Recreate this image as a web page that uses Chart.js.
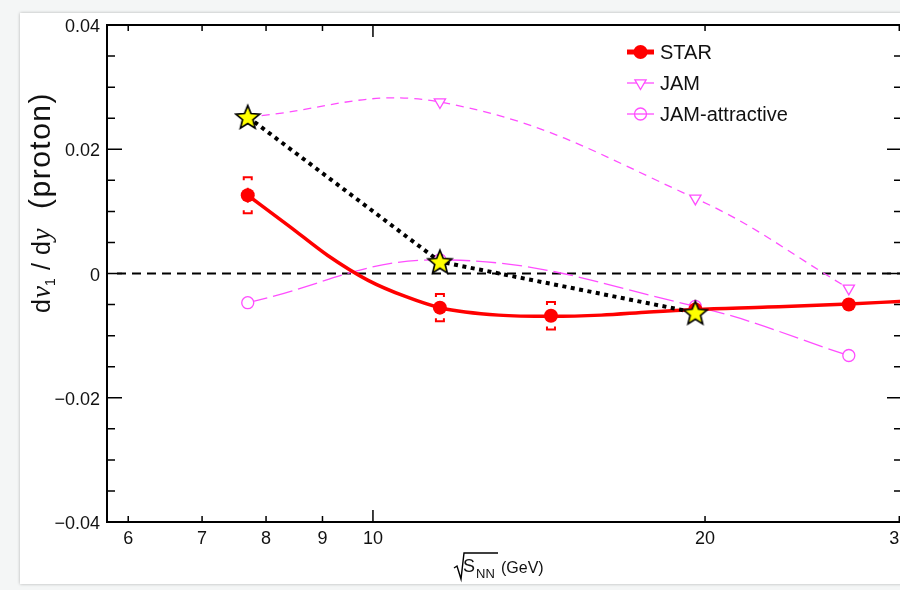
<!DOCTYPE html>
<html>
<head>
<meta charset="utf-8">
<script src="https://cdn.jsdelivr.net/npm/chart.js@4.4.1/dist/chart.umd.min.js"></script>
<style>
  html, body { margin: 0; padding: 0; width: 900px; height: 590px; overflow: hidden; background: #f4f6f6; }
  #panel { position: absolute; left: 20px; top: 13px; width: 920px; height: 571px; background: #fff;
           box-shadow: 0 0 3px rgba(0,0,0,0.28); }
  #chart { position: absolute; left: 0; top: 0; }
</style>
</head>
<body>
<div id="panel"></div>
<canvas id="chart" width="940" height="590"></canvas>
<script>
// STAR data points
const starEnergies = [7.7, 11.5, 14.5, 19.6, 27, 39];
const starValues   = [0.0126, -0.0055, -0.0068, -0.0058, -0.0050, -0.0034];
const starStatErr  = [0.0012, 0.0010, 0.0010, 0.0006, 0.0005, 0.0004];
const starSysErr   = [0.0029, 0.0022, 0.0022, 0.0008, 0.0006, 0.0005];

// red fitted curve
const fitEnergies = [7.7, 8.4, 9.1, 9.9, 10.7, 11.5, 13.0, 14.5, 16.1, 17.8, 19.6, 22.8, 27.0, 30.0, 33.4];
const fitValues   = [0.0126, 0.0076, 0.0029, -0.0011, -0.0037, -0.0055, -0.0067, -0.0069, -0.0067, -0.0062, -0.0058, -0.0054, -0.0049, -0.0045, -0.0041];

// JAM models
const jamEnergies   = [7.7, 11.5, 19.6, 27];
const jamValues     = [0.0252, 0.0276, 0.0121, -0.0024];
const jamAttrValues = [-0.0047, 0.0022, -0.0053, -0.0132];

// stars (yellow)
const modelEnergies = [7.7, 11.5, 19.6];
const modelValues   = [0.0252, 0.0019, -0.0063];

// axes
const xTicks = [6, 7, 8, 9, 10, 20, 30];
const xTickLabels = ['6', '7', '8', '9', '10', '20', '30'];
const xMajorTicks = [10];
const yTicks = [-0.04, -0.02, 0, 0.02, 0.04];
const yTickLabels = ['\u22120.04', '\u22120.02', '0', '0.02', '0.04'];
const yMinorTicks = [-0.035, -0.03, -0.025, -0.015, -0.01, -0.005, 0.005, 0.01, 0.015, 0.025, 0.03, 0.035];

const legendLabels = ['STAR', 'JAM', 'JAM-attractive'];

const RED = '#ff0000';
const MAGENTA = '#ff4dff';
const SANS = '"Liberation Sans", Arial, Helvetica, sans-serif';
const SERIF = '"Liberation Serif", "Times New Roman", serif';

function makeStar(size) {
  const c = document.createElement('canvas');
  c.width = size; c.height = size;
  const g = c.getContext('2d');
  const cx = size / 2, cy = size / 2 + 1, R = size / 2 - 1.5, r = R * 0.44;
  g.beginPath();
  for (let i = 0; i < 10; i++) {
    const a = -Math.PI / 2 + i * Math.PI / 5;
    const rad = i % 2 === 0 ? R : r;
    g.lineTo(cx + rad * Math.cos(a), cy + rad * Math.sin(a));
  }
  g.closePath();
  g.fillStyle = '#ffff00';
  g.fill();
  g.lineWidth = 1.7;
  g.strokeStyle = '#000';
  g.stroke();
  return c;
}
const starImg = makeStar(28);

function pts(xs, ys) {
  return xs.map((x, i) => ({ x: x, y: ys[i] }));
}

function drawSpaced(ctx, text, x, y, spacing) {
  for (const ch of text) {
    ctx.fillText(ch, x, y);
    x += ctx.measureText(ch).width + spacing;
  }
  return x;
}

const decorations = {
  id: 'decorations',
  beforeDatasetsDraw(chart) {
    const { ctx, chartArea: a, scales: { x, y } } = chart;
    ctx.save();
    ctx.beginPath();
    ctx.rect(a.left, a.top, a.right - a.left, a.bottom - a.top);
    ctx.clip();

    // zero line
    const y0 = y.getPixelForValue(0);
    ctx.strokeStyle = '#000';
    ctx.lineWidth = 2.2;
    ctx.setLineDash([9, 6]);
    ctx.beginPath();
    ctx.moveTo(a.left + 10, y0);
    ctx.lineTo(a.right, y0);
    ctx.stroke();
    ctx.setLineDash([]);

    // STAR error bars and systematic brackets
    ctx.strokeStyle = RED;
    ctx.lineWidth = 2;
    starEnergies.forEach((e, i) => {
      const px = x.getPixelForValue(e);
      const v = starValues[i];
      ctx.beginPath();
      ctx.moveTo(px, y.getPixelForValue(v + starStatErr[i]));
      ctx.lineTo(px, y.getPixelForValue(v - starStatErr[i]));
      ctx.stroke();
      const st = y.getPixelForValue(v + starSysErr[i]);
      const sb = y.getPixelForValue(v - starSysErr[i]);
      const w = 4, h = 3;
      ctx.beginPath();
      ctx.moveTo(px - w, st + h); ctx.lineTo(px - w, st); ctx.lineTo(px + w, st); ctx.lineTo(px + w, st + h);
      ctx.moveTo(px - w, sb - h); ctx.lineTo(px - w, sb); ctx.lineTo(px + w, sb); ctx.lineTo(px + w, sb - h);
      ctx.stroke();
    });
    ctx.restore();
  },
  afterDraw(chart) {
    const { ctx, chartArea: a, scales: { x, y } } = chart;
    ctx.save();
    // frame
    ctx.strokeStyle = '#000';
    ctx.lineWidth = 2;
    ctx.strokeRect(a.left, a.top, a.right - a.left, a.bottom - a.top);

    // y ticks
    ctx.lineWidth = 1.5;
    ctx.beginPath();
    yTicks.forEach(v => {
      const py = y.getPixelForValue(v);
      ctx.moveTo(a.left, py); ctx.lineTo(a.left + 15, py);
      ctx.moveTo(a.right, py); ctx.lineTo(a.right - 15, py);
    });
    yMinorTicks.forEach(v => {
      const py = y.getPixelForValue(v);
      ctx.moveTo(a.left, py); ctx.lineTo(a.left + 8, py);
      ctx.moveTo(a.right, py); ctx.lineTo(a.right - 8, py);
    });
    // x ticks
    xTicks.forEach(v => {
      const px = x.getPixelForValue(v);
      const len = xMajorTicks.includes(v) ? 12 : 6;
      ctx.moveTo(px, a.bottom); ctx.lineTo(px, a.bottom - len);
      ctx.moveTo(px, a.top); ctx.lineTo(px, a.top + len);
    });
    ctx.stroke();

    // tick labels
    ctx.fillStyle = '#111';
    ctx.font = '18px ' + SANS;
    ctx.textBaseline = 'alphabetic';
    ctx.textAlign = 'right';
    yTicks.forEach((v, i) => {
      ctx.fillText(yTickLabels[i], a.left - 7, y.getPixelForValue(v) + 7);
    });
    ctx.textAlign = 'center';
    xTicks.forEach((v, i) => {
      ctx.fillText(xTickLabels[i], x.getPixelForValue(v), a.bottom + 22);
    });

    // x title: sqrt(S_NN) (GeV)
    ctx.textAlign = 'left';
    ctx.lineWidth = 1.4;
    ctx.beginPath();
    ctx.moveTo(454, 568); ctx.lineTo(457, 566); ctx.lineTo(461, 579); ctx.lineTo(464, 553); ctx.lineTo(498, 553);
    ctx.stroke();
    ctx.font = '18px ' + SANS;
    ctx.fillText('S', 463, 572);
    ctx.font = '13px ' + SANS;
    ctx.fillText('NN', 476, 578);
    ctx.font = '16px ' + SANS;
    ctx.fillText('(GeV)', 501, 573);

    // y title: dv1 / dy  (proton)
    ctx.save();
    ctx.translate(50, 313);
    ctx.rotate(-Math.PI / 2);
    let lx = 0;
    ctx.font = '25px ' + SANS;
    lx = drawSpaced(ctx, 'd', lx, 0, 1);
    ctx.font = 'italic 27px ' + SERIF;
    lx = drawSpaced(ctx, 'v', lx, 0, 0);
    ctx.font = '14px ' + SANS;
    lx = drawSpaced(ctx, '1', lx, 5, 1);
    ctx.font = '25px ' + SANS;
    lx = drawSpaced(ctx, ' / d', lx, 0, 0.5);
    ctx.font = 'italic 27px ' + SERIF;
    lx = drawSpaced(ctx, 'y', lx, 0, 0);
    ctx.font = '30px ' + SANS;
    drawSpaced(ctx, '(proton)', 104, 0, 1.5);
    ctx.restore();

    // legend
    const lx0 = 627, lx1 = 654, mx = 640.5, tx = 660;
    const rows = [52, 83, 114];
    ctx.font = '20px ' + SANS;
    ctx.fillStyle = '#111';
    legendLabels.forEach((t, i) => ctx.fillText(t, tx, rows[i] + 7));
    // STAR
    ctx.strokeStyle = RED; ctx.lineWidth = 5;
    ctx.beginPath(); ctx.moveTo(lx0, rows[0]); ctx.lineTo(lx1, rows[0]); ctx.stroke();
    ctx.fillStyle = RED;
    ctx.beginPath(); ctx.arc(mx, rows[0], 7, 0, Math.PI * 2); ctx.fill();
    // JAM
    ctx.strokeStyle = MAGENTA; ctx.lineWidth = 1.3;
    ctx.beginPath(); ctx.moveTo(lx0, rows[1]); ctx.lineTo(lx1, rows[1]); ctx.stroke();
    ctx.fillStyle = '#fff';
    ctx.beginPath();
    ctx.moveTo(mx - 5.6, rows[1] - 3.2); ctx.lineTo(mx + 5.6, rows[1] - 3.2); ctx.lineTo(mx, rows[1] + 6.5);
    ctx.closePath(); ctx.fill(); ctx.stroke();
    // JAM-attractive
    ctx.beginPath(); ctx.moveTo(lx0, rows[2]); ctx.lineTo(lx1, rows[2]); ctx.stroke();
    ctx.beginPath(); ctx.arc(mx, rows[2], 6, 0, Math.PI * 2); ctx.stroke();
    ctx.restore();
  }
};

new Chart(document.getElementById('chart'), {
  type: 'line',
  data: {
    datasets: [
      {
        label: 'model',
        data: pts(modelEnergies, modelValues),
        borderColor: '#000',
        borderWidth: 4,
        borderDash: [4, 4.5],
        tension: 0,
        pointStyle: starImg,
        pointRadius: 12,
        order: 0
      },
      {
        label: 'STAR',
        data: pts(starEnergies, starValues),
        showLine: false,
        pointStyle: 'circle',
        pointRadius: 7,
        pointBorderWidth: 0,
        pointBackgroundColor: RED,
        borderColor: RED,
        order: 1
      },
      {
        label: 'STAR fit',
        data: pts(fitEnergies, fitValues),
        borderColor: RED,
        borderWidth: 3.5,
        pointRadius: 0,
        cubicInterpolationMode: 'monotone',
        order: 2
      },
      {
        label: 'JAM',
        data: pts(jamEnergies, jamValues),
        borderColor: MAGENTA,
        borderWidth: 1.3,
        borderDash: [8, 6],
        tension: 0.4,
        pointStyle: 'triangle',
        rotation: 180,
        pointRadius: 6.5,
        pointBorderWidth: 1.3,
        pointBorderColor: MAGENTA,
        pointBackgroundColor: '#fff',
        order: 3
      },
      {
        label: 'JAM-attractive',
        data: pts(jamEnergies, jamAttrValues),
        borderColor: MAGENTA,
        borderWidth: 1.3,
        borderDash: [20, 6],
        tension: 0.4,
        pointStyle: 'circle',
        pointRadius: 6,
        pointBorderWidth: 1.3,
        pointBorderColor: MAGENTA,
        pointBackgroundColor: '#fff',
        order: 4
      }
    ]
  },
  options: {
    responsive: false,
    animation: false,
    devicePixelRatio: 1,
    layout: { padding: { left: 107, top: 25, right: 38, bottom: 68 } },
    plugins: { legend: { display: false }, tooltip: { enabled: false }, title: { display: false } },
    scales: {
      x: { type: 'logarithmic', min: 5.74, max: 30.17, display: false },
      y: { type: 'linear', min: -0.04, max: 0.04, display: false }
    }
  },
  plugins: [decorations]
});
</script>
</body>
</html>
